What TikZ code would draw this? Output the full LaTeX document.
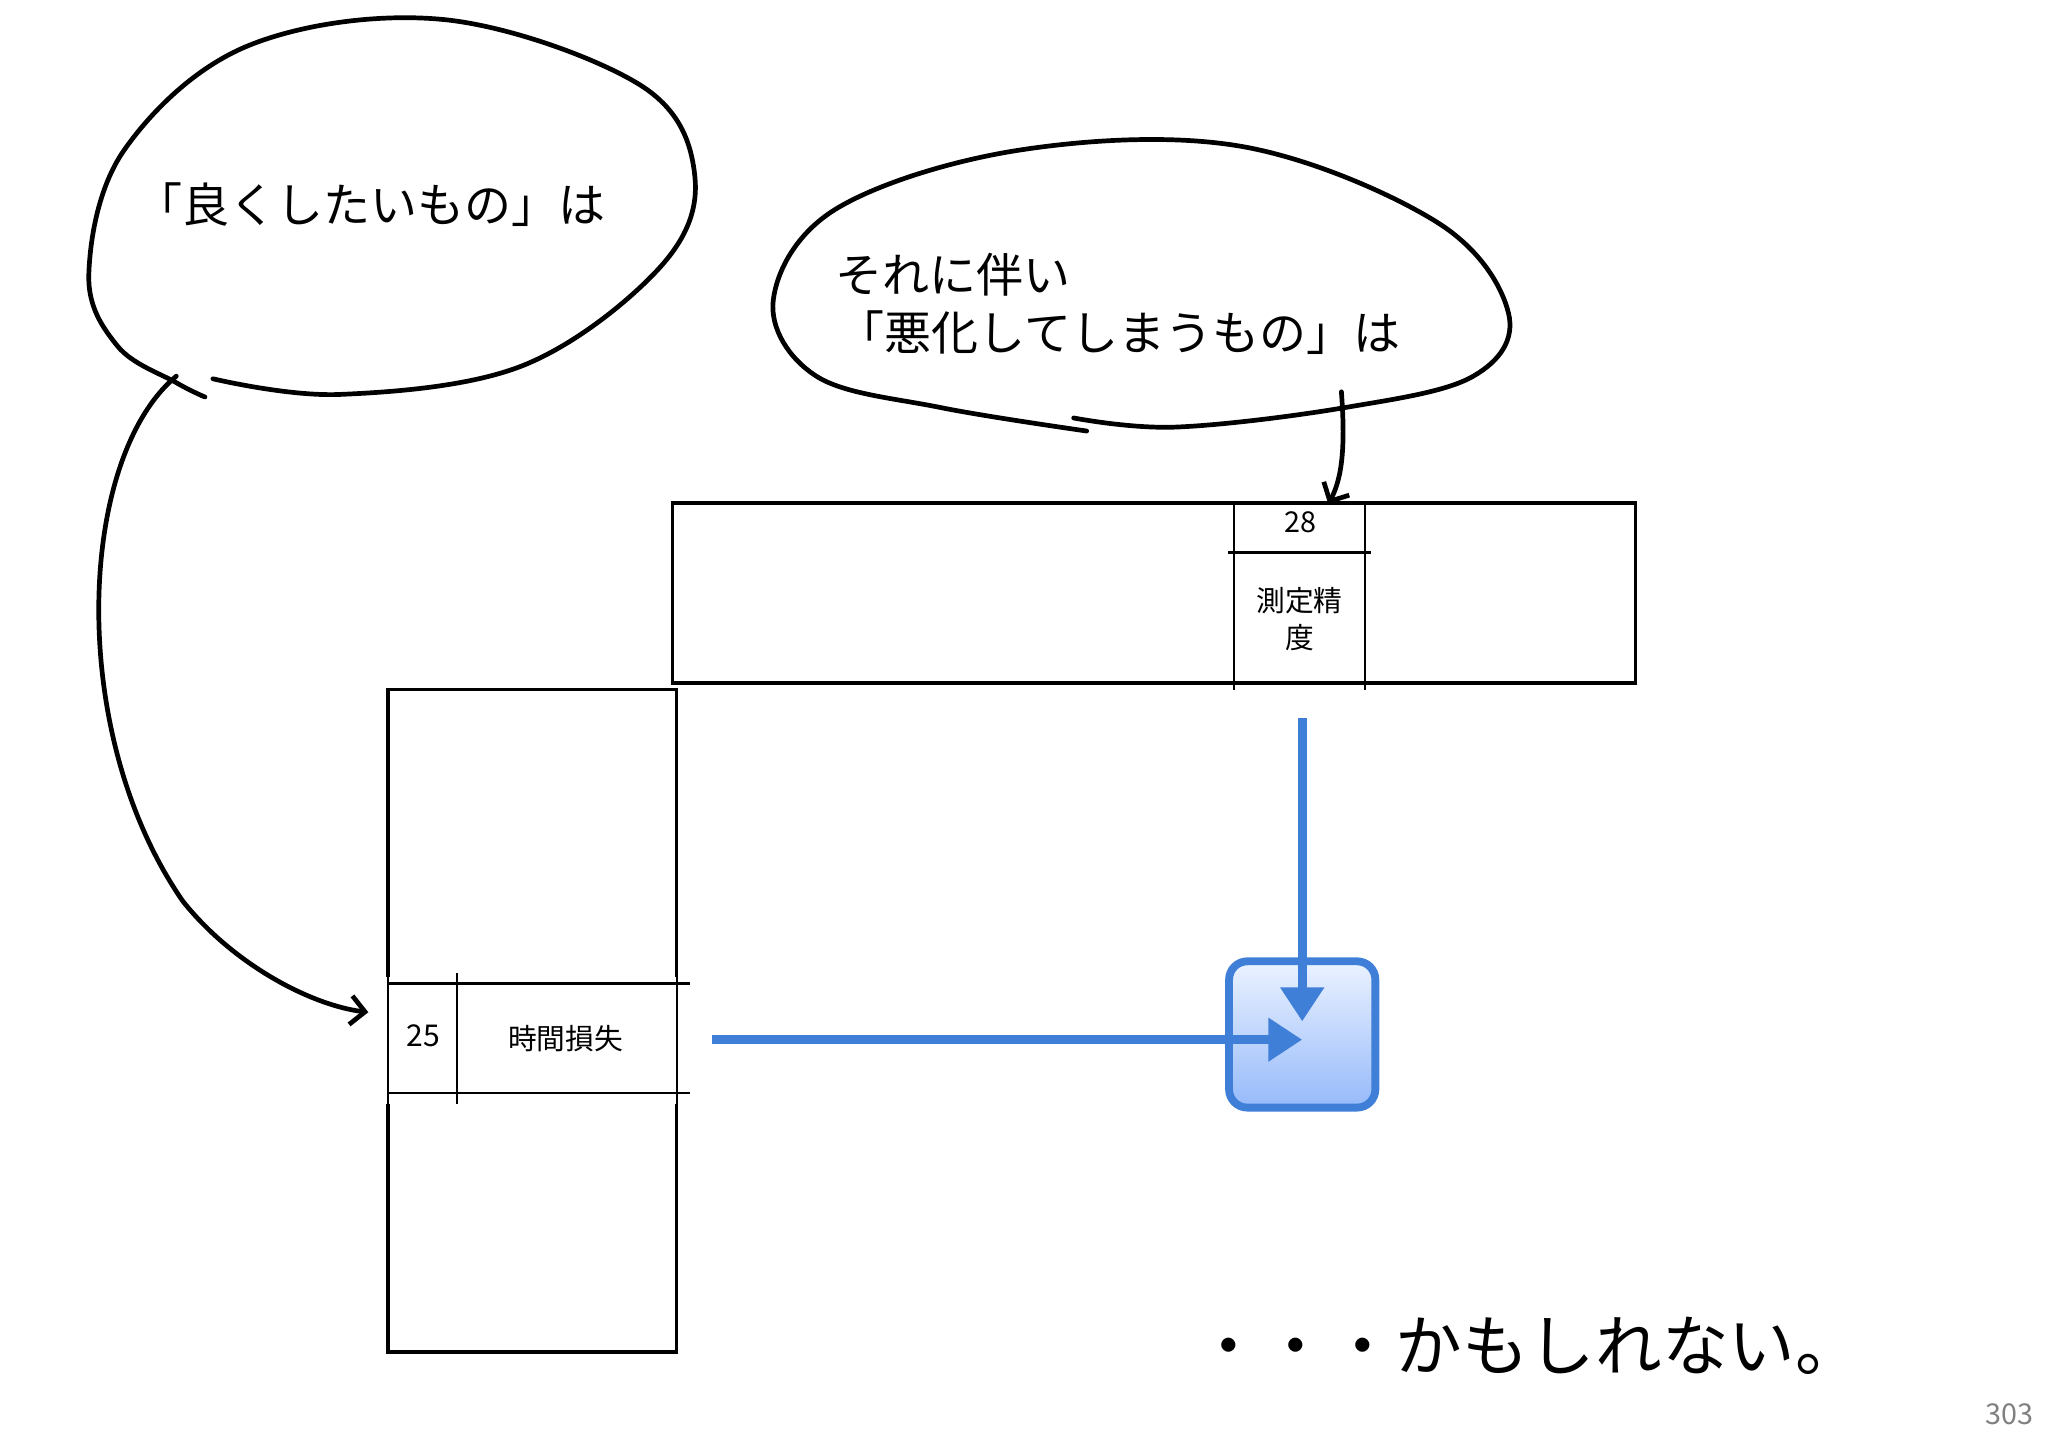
\documentclass[tikz,border=0pt]{standalone}
\usepackage{fontspec}
\setmainfont{Noto Sans CJK JP}
\usetikzlibrary{arrows.meta}
\definecolor{bl}{HTML}{3F7FD8}
\definecolor{gtop}{HTML}{EAF2FF}
\definecolor{gbot}{HTML}{96BAFA}
\tikzset{hand/.style={line width=3.6pt,line cap=round,line join=round},
 box/.style={line width=2.6pt},
 thin/.style={line width=1.6pt},
 blarrow/.style={bl,line width=7pt,-{Triangle[length=26pt,width=32pt]}}}
\begin{document}
\begin{tikzpicture}[x=1pt,y=-1pt]
\useasboundingbox (0,0) rectangle (1568,1108);
% left bubble
\draw[hand] plot[smooth,tension=0.6] coordinates{(163,290)(260,302)(400,280)(505,205)(532,135)(490,65)(340,15)(190,35)(95,115)(68,210)(90,265)(135,293)(157,304)};
\coordinate (lt) at (135,288); \coordinate (lh) at (282,775);
\draw[hand,-{Straight Barb[length=11pt,width=22pt,line width=3.6pt]}] (lt) .. controls (60,350) and (50,560) .. (140,690) .. controls (180,740) and (240,770) .. (lh);
\node[anchor=west,font=\fontsize{36}{42}\selectfont] (t1) at (100,157) {「良くしたいもの」は};
% right bubble
\draw[hand] plot[smooth,tension=0.6] coordinates{(832,330)(720,312)(625,288)(592,230)(640,160)(780,115)(950,112)(1100,170)(1155,240)(1128,288)(1030,312)(900,327)(822,320)};
\coordinate (rt) at (1027,300); \coordinate (rh) at (1017,386);
\draw[hand,-{Straight Barb[length=11pt,width=22pt,line width=3.6pt]}] (rt) .. controls (1030,340) and (1028,365) .. (rh);
\node[anchor=west,font=\fontsize{36}{42}\selectfont] (t2) at (636,210) {それに伴い};
\node[anchor=west,font=\fontsize{36}{42}\selectfont] (t3) at (638,255) {「悪化してしまうもの」は};
% top rectangle
\draw[box] (515,385) rectangle (1252,523);
\draw[thin] (945,385) -- (945,528) (1045,385) -- (1045,528) (940,423) -- (1050,423);
\node[font=\fontsize{22}{26}\selectfont] (n28) at (996,400) {28};
\node[font=\fontsize{22}{29}\selectfont,align=center] (sok) at (995,474) {測定精\\度};
% left rectangle
\draw[box] (297,748) -- (297,528) -- (518,528) -- (518,748);
\draw[box] (297,845) -- (297,1035) -- (518,1035) -- (518,845);
\draw[thin] (297,753) -- (528,753) (297,837) -- (528,837) (350,745) -- (350,845) (297,748) -- (297,845) (518,748) -- (518,845);
\node[font=\fontsize{23}{26}\selectfont] (n25) at (324,793) {25};
\node[font=\fontsize{22}{26}\selectfont] (jik) at (433,795) {時間損失};
% blue box
\node[draw=bl,line width=6pt,rounded corners=14pt,minimum width=112pt,minimum height=112pt,top color=gtop,bottom color=gbot] (bb) at (997,792) {};
\coordinate (h0) at (545,796); \coordinate (h1) at (997,796);
\coordinate (v0) at (997,550); \coordinate (v1) at (997,782);
\draw[blarrow] (h0) -- (h1);
\draw[blarrow] (v0) -- (v1);
\node[anchor=west,font=\fontsize{51}{56}\selectfont] (kamo) at (912,1030) {・・・かもしれない。};
\node[anchor=east,font=\fontsize{22}{26}\selectfont,text=gray] (pg) at (1560,1083) {303};
\end{tikzpicture}
\end{document}
